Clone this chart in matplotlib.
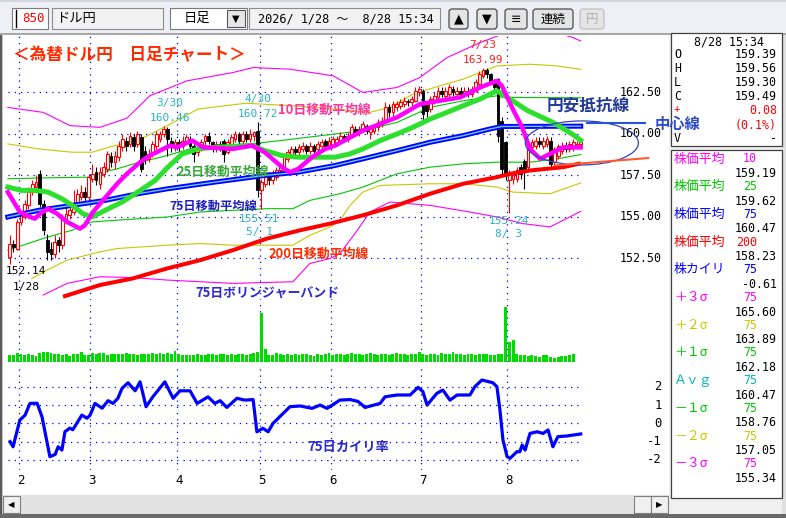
"""
Daily USD/JPY chart with moving averages, Bollinger bands, volume and deviation
"""

import matplotlib
matplotlib.use('Agg')
import matplotlib.pyplot as plt
from matplotlib.patches import Rectangle, Ellipse, FancyBboxPatch
import numpy as np

plt.rcParams['font.family'] = ['Noto Sans CJK JP', 'DejaVu Sans']
MONO = ['DejaVu Sans Mono', 'Noto Sans CJK JP']

# ---------------------------------------------------------------------------
# Data (trading day index 0 = 1/28, 152 = 8/28)
# ---------------------------------------------------------------------------
opens = [152.6, 153.4, 153.1, 154.7, 155.0, 155.7, 156.5, 156.8, 157.6, 155.8,
         153.6, 153.1, 152.8, 153.6, 153.3, 154.9, 155.1, 155.3, 155.7, 156.2,
         156.5, 156.2, 157.3, 157.7, 157.0, 157.6, 157.9, 158.7, 158.3, 158.6,
         159.2, 159.6, 159.4, 159.8, 159.4, 159.8, 159.0, 158.5, 158.8, 159.3,
         159.7, 160.0, 160.3, 159.6, 159.2, 159.5, 159.3, 159.5, 159.7, 159.3,
         158.9, 159.2, 159.6, 159.9, 159.5, 159.1, 159.4, 159.6, 158.9, 159.4,
         159.7, 160.0, 159.6, 160.0, 159.7, 159.9, 160.2, 156.6, 157.0, 157.5,
         157.2, 157.4, 157.8, 158.0, 158.5, 158.8, 159.1, 158.9, 159.1, 159.3,
         159.0, 159.3, 159.1, 159.3, 159.6, 159.3, 159.4, 159.4, 159.6, 159.9,
         159.7, 159.9, 160.3, 160.1, 160.3, 160.5, 160.1, 160.2, 160.4, 160.6,
         160.8, 161.6, 161.3, 161.6, 161.7, 161.8, 162.0, 161.9, 162.0, 162.5,
         162.6, 161.8, 161.5, 162.0, 162.2, 162.6, 162.3, 162.4, 162.7, 162.4,
         162.6, 162.4, 162.6, 162.4, 162.6, 163.0, 163.5, 163.85, 163.6, 163.2,
         163.3, 160.8, 159.5, 157.2, 157.3, 157.3, 158.0, 158.4, 158.0, 159.2,
         159.3, 159.6, 159.3, 159.4, 159.6, 158.3, 158.7, 159.0, 159.3, 159.1,
         159.2, 159.2, 159.39]
highs = [153.9, 153.6, 154.9, 155.3, 156.0, 156.8, 157.2, 157.5, 157.8, 156.0,
         154.0, 153.5, 153.9, 153.8, 155.2, 155.6, 155.9, 156.6, 156.7, 156.9,
         156.8, 157.6, 158.2, 158.0, 158.0, 158.3, 159.0, 158.9, 159.0, 159.6,
         160.0, 159.8, 160.1, 160.0, 160.2, 160.0, 159.3, 159.1, 159.6, 160.2,
         160.2, 160.46, 160.4, 159.8, 159.7, 159.7, 159.9, 160.0, 159.9, 159.4,
         159.4, 159.7, 160.0, 160.1, 159.6, 159.6, 159.6, 159.7, 159.7, 160.0,
         160.2, 160.1, 160.2, 160.2, 160.3, 160.2, 160.72, 157.3, 157.7, 157.7,
         157.8, 158.0, 158.2, 158.8, 159.1, 159.3, 159.3, 159.4, 159.5, 159.4,
         159.5, 159.4, 159.6, 159.7, 159.7, 159.8, 159.9, 159.9, 160.1, 160.0,
         160.1, 160.6, 160.5, 160.5, 160.8, 160.6, 160.5, 160.6, 160.9, 161.0,
         161.9, 161.8, 162.0, 162.0, 162.1, 162.2, 162.1, 162.3, 162.8, 162.9,
         162.7, 161.9, 162.3, 162.5, 162.8, 162.8, 162.8, 163.0, 162.9, 162.8,
         162.8, 162.8, 162.8, 162.9, 163.3, 163.8, 163.99, 163.95, 163.7, 163.3,
         163.4, 161.0, 159.6, 157.8, 157.7, 158.0, 158.2, 158.5, 159.3, 159.7,
         159.8, 159.8, 159.8, 159.9, 159.8, 159.2, 159.4, 159.5, 159.5, 159.6,
         159.7, 159.6, 159.56]
lows = [152.14, 152.9, 153.0, 154.5, 154.9, 155.5, 156.3, 156.5, 155.6, 153.9,
        152.4, 152.4, 152.5, 152.9, 153.1, 154.7, 154.9, 155.1, 155.5, 156.0,
        155.9, 156.0, 157.1, 156.9, 156.7, 157.4, 157.7, 158.0, 157.9, 158.4,
        159.0, 159.0, 159.2, 159.0, 159.2, 157.7, 158.2, 158.3, 158.6, 159.1,
        159.5, 159.8, 158.7, 158.9, 159.0, 159.0, 159.1, 159.4, 159.1, 158.3,
        158.7, 159.0, 159.3, 159.4, 158.9, 158.9, 159.0, 158.3, 158.8, 159.2,
        159.5, 159.4, 159.4, 159.5, 159.5, 159.6, 156.2, 155.51, 156.8, 156.9,
        157.0, 157.2, 157.6, 157.9, 158.3, 158.6, 158.7, 158.7, 158.9, 158.8,
        158.8, 158.8, 158.9, 159.1, 159.1, 159.1, 159.2, 159.3, 159.4, 159.5,
        159.5, 159.8, 159.9, 159.9, 160.1, 160.0, 159.7, 160.0, 160.2, 160.4,
        160.7, 161.0, 161.1, 161.4, 161.5, 161.6, 161.7, 161.7, 161.9, 162.3,
        160.6, 161.0, 161.3, 161.8, 162.0, 162.2, 162.1, 162.2, 162.3, 162.2,
        162.2, 162.2, 162.2, 162.2, 162.5, 162.9, 163.4, 163.4, 163.0, 162.6,
        159.5, 157.6, 157.2, 155.24, 157.0, 157.1, 157.3, 156.7, 157.8, 159.0,
        159.1, 159.2, 159.1, 159.2, 158.0, 158.1, 158.5, 158.8, 158.9, 158.9,
        159.0, 159.1, 159.30]
closes = [153.4, 153.2, 154.7, 155.1, 155.8, 156.5, 157.0, 157.1, 155.8, 154.2,
          152.9, 152.8, 153.5, 153.3, 155.0, 155.2, 155.4, 155.8, 156.4, 156.5,
          156.2, 157.4, 157.6, 157.2, 157.7, 158.0, 158.8, 158.3, 158.7, 159.3,
          159.7, 159.3, 159.9, 159.3, 160.0, 157.9, 158.5, 158.8, 159.4, 160.0,
          160.0, 160.3, 159.7, 159.2, 159.5, 159.3, 159.6, 159.8, 159.3, 158.8,
          159.2, 159.5, 159.9, 159.6, 159.1, 159.4, 159.2, 158.8, 159.5, 159.8,
          160.0, 159.6, 160.0, 159.7, 160.0, 160.1, 156.6, 157.1, 157.5, 157.2,
          157.5, 157.8, 158.0, 158.6, 158.9, 159.1, 158.9, 159.2, 159.3, 159.0,
          159.3, 159.0, 159.4, 159.5, 159.3, 159.6, 159.7, 159.7, 159.9, 159.7,
          159.9, 160.4, 160.1, 160.3, 160.6, 160.2, 160.3, 160.4, 160.7, 160.8,
          161.6, 161.3, 161.8, 161.8, 161.9, 162.0, 161.9, 162.1, 162.6, 162.7,
          161.2, 161.4, 162.1, 162.3, 162.6, 162.4, 162.6, 162.8, 162.5, 162.6,
          162.4, 162.6, 162.4, 162.7, 163.1, 163.6, 163.85, 163.6, 163.2, 162.8,
          159.9, 157.9, 157.5, 157.6, 157.5, 157.8, 157.6, 157.9, 159.1, 159.5,
          159.6, 159.4, 159.6, 159.7, 158.2, 159.1, 159.3, 159.3, 159.1, 159.4,
          159.5, 159.4, 159.49]
volumes = [7, 7, 9, 8, 7, 8, 7, 6, 9, 10,
           10, 9, 8, 8, 7, 8, 6, 8, 8, 10,
           7, 7, 9, 8, 9, 9, 7, 8, 8, 8,
           8, 9, 8, 8, 7, 8, 8, 8, 9, 8,
           9, 8, 9, 8, 11, 8, 7, 7, 7, 7,
           8, 7, 7, 8, 8, 7, 8, 8, 7, 8,
           7, 8, 8, 7, 8, 9, 10, 49, 13, 7,
           7, 9, 8, 7, 8, 7, 8, 7, 8, 8,
           7, 6, 8, 7, 8, 9, 7, 8, 8, 7,
           8, 9, 8, 8, 7, 8, 9, 8, 7, 8,
           8, 7, 8, 9, 8, 8, 7, 8, 8, 10,
           8, 7, 8, 8, 7, 9, 8, 8, 10, 8,
           8, 7, 8, 8, 7, 8, 8, 8, 7, 7,
           8, 8, 55, 20, 22, 8, 7, 7, 6, 7,
           6, 5, 7, 7, 5, 4, 5, 6, 6, 7,
           8]

# moving averages (day index, price)
ma10 = [(-0.5, 156.5), (2.7, 155.3), (5.4, 155.0), (6.7, 154.9), (8.1, 155.2), (10.2, 155.5),
        (12.6, 155.2), (15.3, 154.7), (18.7, 154.3), (20.0, 154.5), (22.2, 155.3), (24.8, 156.0),
        (26.7, 156.5), (28.6, 157.0), (31.2, 157.6), (34.7, 158.3), (37.3, 158.7), (40.0, 159.0),
        (42.7, 159.3), (44.5, 159.2), (48.6, 159.6), (51.4, 159.2), (59.4, 159.1), (64.5, 159.3),
        (67.9, 158.9), (72.5, 158.0), (74.6, 157.7), (76.8, 157.9), (80.5, 158.6), (84.0, 159.1),
        (86.6, 159.3), (94.0, 160.2), (103.1, 161.0), (109.2, 161.8), (114.5, 162.0), (119.9, 162.2),
        (125.2, 162.8), (129.7, 163.2), (131.0, 162.9), (133.7, 161.6), (136.4, 160.4), (138.5, 159.1),
        (141.2, 158.5), (143.8, 158.8), (147.3, 159.2), (152.0, 159.19)]
ma25 = [(-0.5, 156.8), (3.2, 156.6), (6.7, 156.6), (10.2, 156.5), (13.9, 156.1), (16.6, 155.7),
        (19.5, 155.2), (21.9, 155.0), (25.4, 155.4), (29.9, 155.9), (34.1, 156.5), (38.7, 157.2),
        (42.1, 158.0), (45.9, 158.8), (50.1, 159.1), (54.6, 159.2), (64.5, 159.3), (67.9, 159.0),
        (72.5, 158.7), (76.8, 158.6), (86.6, 158.6), (90.6, 158.8), (94.0, 159.1), (98.6, 159.6),
        (103.1, 160.0), (107.3, 160.4), (111.9, 160.9), (116.4, 161.3), (120.7, 161.7), (125.2, 162.1),
        (129.7, 162.6), (133.2, 162.1), (137.9, 161.4), (144.6, 160.7), (149.7, 160.0), (152.0, 159.62)]
ma75 = [(-0.5, 155.0), (7.7, 155.4), (16.6, 155.7), (25.4, 156.0), (34.1, 156.4), (42.1, 156.7),
        (54.6, 157.1), (67.9, 157.5), (76.8, 157.7), (86.6, 158.1), (94.0, 158.5), (103.1, 159.0),
        (111.9, 159.5), (120.7, 159.9), (127.8, 160.3), (131.0, 160.45), (152.0, 160.47)]
ma200 = [(14.2, 150.2), (24.0, 150.9), (32.8, 151.3), (41.9, 151.9), (50.7, 152.4), (59.4, 153.0),
         (68.5, 153.7), (77.3, 154.2), (85.3, 154.6), (94.0, 155.1), (103.1, 155.7), (111.9, 156.4),
         (120.7, 157.0), (129.7, 157.4), (133.2, 157.6), (138.5, 157.8), (147.3, 158.0), (152.0, 158.23)]

# 75-day Bollinger bands
bb_p1 = [(-0.5, 157.3), (8.1, 157.35), (21.4, 157.4), (24.8, 157.7), (28.6, 157.9), (33.0, 158.2),
         (41.9, 158.7), (48.0, 159.1), (59.4, 159.35), (66.0, 159.45), (72.0, 159.6), (86.6, 160.0),
         (94.0, 160.2), (103.1, 160.7), (111.9, 161.6), (120.7, 162.0), (129.7, 162.3), (131.3, 162.2),
         (152.0, 162.18)]
bb_m1 = [(-0.5, 153.0), (10.2, 153.8), (16.6, 154.2), (21.9, 154.7), (28.0, 154.8), (41.9, 155.0),
         (50.7, 155.3), (59.4, 155.4), (68.5, 155.5), (75.4, 155.5), (79.9, 156.0), (87.9, 156.4),
         (94.0, 156.8), (103.1, 157.6), (111.9, 158.0), (120.7, 158.2), (129.7, 158.3), (138.5, 158.3),
         (145.7, 158.5), (152.0, 158.76)]
bb_p2 = [(-0.5, 159.4), (7.7, 159.1), (16.6, 158.9), (21.9, 158.9), (28.0, 159.3), (34.1, 159.6),
         (41.9, 160.5), (50.1, 161.5), (62.8, 161.85), (75.2, 161.7), (86.6, 161.5), (95.9, 161.3),
         (101.2, 161.6), (107.3, 162.4), (114.5, 162.9), (120.7, 163.3), (125.2, 163.7), (129.7, 164.1),
         (138.5, 164.2), (145.7, 164.1), (152.0, 163.89)]
bb_m2 = [(5.9, 151.3), (9.9, 151.8), (15.3, 152.4), (24.0, 152.9), (28.6, 153.1), (41.9, 153.3),
         (50.7, 153.4), (59.4, 153.3), (75.4, 153.3), (79.9, 153.9), (85.3, 154.4), (87.9, 154.8),
         (90.6, 155.7), (94.0, 156.5), (98.6, 156.9), (111.9, 157.0), (120.7, 157.0), (129.7, 156.8),
         (133.9, 156.5), (143.8, 156.4), (152.0, 157.05)]
bb_p3 = [(-0.5, 161.6), (8.9, 161.3), (16.1, 160.5), (24.0, 160.4), (31.2, 160.95), (37.3, 162.3),
         (47.2, 163.2), (59.4, 163.7), (64.8, 164.0), (74.6, 163.9), (86.1, 163.5), (94.0, 162.5),
         (103.1, 162.8), (109.2, 163.4), (116.4, 164.6), (125.2, 165.5), (131.0, 166.0), (138.5, 166.3),
         (145.7, 166.1), (150.0, 165.8), (152.0, 165.6)]
bb_m3 = [(8.9, 150.3), (15.3, 151.0), (24.0, 151.4), (32.8, 151.35), (41.9, 151.2), (50.7, 151.1),
         (59.4, 151.0), (75.4, 151.1), (79.9, 152.2), (85.3, 152.5), (87.9, 152.8), (91.9, 154.0),
         (95.9, 155.3), (101.2, 155.9), (111.9, 155.7), (122.5, 155.3), (129.7, 155.0), (136.6, 154.6),
         (143.8, 154.4), (147.3, 154.8), (152.0, 155.34)]

# 75-day deviation rate (%)
deviation = [(0.1, -1.0), (0.9, -1.28), (2.7, 0.18), (4.1, 0.45), (5.4, 1.09), (7.3, 1.1), (8.6, 0.36),
             (10.7, -1.82), (12.1, -1.7), (12.9, -1.28), (13.9, -1.46), (14.7, -0.46), (16.0, -0.26),
             (16.8, -0.35), (19.2, 0.45), (20.6, 0.28), (21.4, 0.45), (22.7, 1.09), (24.6, 0.83),
             (26.2, 1.24), (27.5, 1.09), (28.8, 1.37), (29.9, 1.91), (31.5, 2.22), (33.4, 1.78),
             (34.7, 2.27), (36.3, 0.91), (38.1, 1.45), (41.3, 2.27), (43.5, 1.37), (45.3, 1.78),
             (48.0, 1.78), (49.9, 1.09), (52.8, 1.45), (54.6, 1.09), (56.0, 1.24), (57.8, 0.87),
             (60.5, 1.37), (62.6, 1.27), (64.8, 1.3), (65.8, -0.46), (67.4, -0.27), (68.8, -0.46),
             (70.1, 0.0), (74.6, 0.91), (77.3, 0.95), (80.5, 0.82), (82.6, 1.0), (84.5, 0.82),
             (87.9, 1.27), (90.6, 1.3), (92.7, 1.2), (94.6, 0.87), (98.6, 1.09), (99.9, 1.45),
             (103.1, 1.55), (106.6, 1.55), (108.7, 1.97), (110.0, 1.73), (111.1, 1.0), (113.7, 1.64),
             (115.3, 1.82), (117.2, 1.27), (119.1, 1.55), (122.5, 1.55), (123.8, 2.0), (125.7, 2.37),
             (128.6, 2.22), (129.7, 2.0), (130.5, 0.73), (131.3, -0.91), (132.4, -1.82), (133.2, -1.91),
             (135.0, -1.55), (135.8, -1.55), (136.4, -1.19), (137.2, -1.46), (138.5, -0.55),
             (140.4, -0.46), (142.0, -0.55), (143.3, -0.36), (144.6, -1.28), (145.9, -0.73),
             (148.3, -0.69), (152.0, -0.58)]

month_first_day = [3, 22, 45, 67, 86, 110, 133]
month_labels = ['2', '3', '4', '5', '6', '7', '8']
price_ticks = [162.5, 160.0, 157.5, 155.0, 152.5]
dev_ticks = [2, 1, 0, -1, -2]

# high / low markers: (x, y, text, colour)
marker_texts = [
    (42.7, 161.86, '3/30', '#2ab4c0'), (42.7, 160.95, '160.46', '#2ab4c0'),
    (66.0, 162.10, '4/30', '#2ab4c0'), (66.0, 161.22, '160.72', '#2ab4c0'),
    (66.4, 154.90, '155.51', '#2ab4c0'), (66.4, 154.10, '5/ 1', '#2ab4c0'),
    (126.0, 165.35, '7/23', '#ff2020'), (126.0, 164.45, '163.99', '#ff2020'),
    (132.9, 154.75, '155.24', '#2ab4c0'), (132.9, 153.96, '8/ 3', '#2ab4c0'),
    (4.3, 151.73, '152.14', 'black'), (4.3, 150.77, '1/28', 'black'),
]

# info panel
ohlc_labels = ['O', 'H', 'L', 'C']
ohlc_values = ['159.39', '159.56', '159.30', '159.49']
indicator_names = ['株価平均', '株価平均', '株価平均', '株価平均', '株カイリ',
                   '＋３σ', '＋２σ', '＋１σ', 'Ａｖｇ', '－１σ', '－２σ', '－３σ']
indicator_periods = ['10', '25', '75', '200', '75', '75', '75', '75', '75', '75', '75', '75']
indicator_values = ['159.19', '159.62', '160.47', '158.23', '-0.61', '165.60',
                    '163.89', '162.18', '160.47', '158.76', '157.05', '155.34']
indicator_colors = ['#ff00ff', '#00c800', '#0000ff', '#ff0000', '#0000ff', '#ff00ff',
                    '#c8c800', '#00c800', '#00b8b8', '#00c800', '#c8c800', '#ff00ff']

W, H = 786, 518


def px_rect(x0, y0, x1, y1):
    return [x0 / W, 1 - y1 / H, (x1 - x0) / W, (y1 - y0) / H]


def unzip(points):
    return [p[0] for p in points], [p[1] for p in points]


def create_chart():
    fig = plt.figure(figsize=(W / 100, H / 100), dpi=100, facecolor='#f0f0f0')

    # =========================================================================
    # Window chrome (pixel coordinates)
    # =========================================================================
    ui = fig.add_axes([0, 0, 1, 1], zorder=0)
    ui.set_xlim(0, W)
    ui.set_ylim(H, 0)
    ui.axis('off')

    def box(x0, y0, x1, y1, fc, ec='none', lw=0.0, z=1):
        ui.add_patch(Rectangle((x0, y0), x1 - x0, y1 - y0, facecolor=fc, edgecolor=ec, linewidth=lw, zorder=z))

    box(0, 0, W, 36, '#eef0f5')
    box(0, 0, W, 2, '#d2d6de')
    box(0, 33, W, 35, '#a8a8a8')

    # toolbar fields
    box(12, 8, 48, 29, 'white', '#7c7c7c', 0.8)
    ui.plot([16, 16], [10, 27], color='black', lw=1)
    ui.text(22, 18.5, '850', color='#ff0000', fontsize=9, family=MONO, va='center')
    box(52, 8, 163, 29, '#f2f2f2', '#8c8c8c', 0.8)
    ui.text(56, 18.5, 'ドル円', fontsize=9.5, va='center')
    box(170, 8, 247, 29, 'white', '#7c7c7c', 0.8)
    ui.text(197, 18.5, '日足', fontsize=9.5, va='center', ha='center')
    box(227, 10, 245, 27, '#e6e6e6', '#555555', 0.8, z=2)
    ui.text(236, 18.5, '▼', fontsize=7, va='center', ha='center', zorder=3, family=['DejaVu Sans'])
    box(249, 8, 440, 29, '#f2f2f2', '#8c8c8c', 0.8)
    ui.text(258, 18.5, '2026/ 1/28 ～  8/28 15:34', fontsize=8.6, family=MONO, va='center')

    buttons = [(449, 468, '▲', 'black'), (477, 497, '▼', 'black'), (505, 527, '≡', 'black'),
               (533, 573, '連続', 'black'), (580, 604, '円', '#b0b0b0')]
    for x0, x1, label, col in buttons:
        ec = '#4a4a4a' if col == 'black' else '#c0c0c0'
        ui.add_patch(FancyBboxPatch((x0, 9), x1 - x0, 20, boxstyle='round,pad=0,rounding_size=3',
                                    facecolor='#e4e4e4', edgecolor=ec, linewidth=0.9, zorder=2))
        fam = ['DejaVu Sans'] if label in '▲▼≡' else plt.rcParams['font.family']
        ui.text((x0 + x1) / 2, 19, label, color=col, fontsize=9, ha='center', va='center', zorder=3,
                family=fam)

    # chart area + frame
    box(3, 35, 669, 495, 'white')
    box(0, 35, 2, H, '#5a5a5a')
    box(2, 35, 3, H, '#c8c8c8')

    # scrollbar
    box(3, 495, 669, 514, '#e2e2e2')
    box(3, 496, 20, 513, '#f0f0f0', '#808080', 0.8, z=2)
    ui.text(11.5, 504.5, '◀', fontsize=6, ha='center', va='center', zorder=3, family=['DejaVu Sans'])
    box(634, 496, 651, 513, '#f0f0f0', '#808080', 0.8, z=2)
    box(651, 496, 668, 513, '#f0f0f0', '#808080', 0.8, z=2)
    ui.text(659.5, 504.5, '▶', fontsize=6, ha='center', va='center', zorder=3, family=['DejaVu Sans'])
    box(0, 514, W, H, '#6a6a6a')

    # right info panel
    box(669, 35, W, 514, '#f0f0f0')
    box(782, 35, W, 514, '#e0e0e0')
    box(671, 33, 782, 146, 'white', '#404040', 0.9, z=2)
    box(671, 150, 782, 498, 'white', '#404040', 0.9, z=2)

    num = dict(fontsize=8.4, family=MONO, va='center', zorder=3)
    ui.text(729, 42, '8/28 15:34', ha='center', **num)
    for k, (lab, val) in enumerate(zip(ohlc_labels, ohlc_values)):
        yy = 55 + k * 14
        ui.text(674, yy, lab, **num)
        ui.text(777, yy, val, ha='right', **num)
    ui.text(674, 109, '+', fontsize=7.5, family=MONO, va='center', color='#ff0000', zorder=3)
    ui.text(777, 111, '0.08', ha='right', color='#ff0000', **num)
    ui.text(777, 125, '(0.1%)', ha='right', color='#ff0000', **num)
    ui.text(674, 139, 'V', **num)
    ui.text(777, 139, '-', ha='right', **num)

    for k in range(len(indicator_names)):
        yy = 159 + k * 27.7
        col = indicator_colors[k]
        ui.text(674, yy, indicator_names[k], fontsize=9.3, color=col, va='center', zorder=3)
        ui.text(757, yy, indicator_periods[k], color=col, ha='right', **num)
        ui.text(777, yy + 14.5, indicator_values[k], ha='right', **num)

    ui.text(13, 55, '＜為替ドル円　日足チャート＞', color='#ff2a00', fontsize=12, fontweight='bold',
            va='center', zorder=3)

    # =========================================================================
    # Data panels
    # =========================================================================
    xlim = (-1.25, 174.7)
    ax = fig.add_axes(px_rect(5, 36, 666, 300), zorder=2)
    axv = fig.add_axes(px_rect(5, 302, 666, 362), zorder=2)
    axd = fig.add_axes(px_rect(5, 365, 666, 470), zorder=2)
    for a in (ax, axv, axd):
        a.set_xlim(*xlim)
        a.patch.set_visible(False)
        a.axis('off')
    ax.set_ylim(150.0, 165.9)
    axv.set_ylim(0, 60)
    axd.set_ylim(-2.55, 3.19)

    dots = dict(color='#0000ff', lw=0.9, ls=(0, (1, 4)), zorder=1)
    for k in month_first_day:
        for a in (ax, axv, axd):
            a.axvline(k - 0.5, **dots)
    for p in price_ticks:
        ax.plot([-0.5, 152.6], [p, p], **dots)
        ax.text(173.6, p, f'{p:.2f}', fontsize=8.4, family=MONO, ha='right', va='center')
    for d in dev_ticks:
        axd.plot([-0.5, 152.6], [d, d], **dots)
        axd.text(173.6, d, str(d), fontsize=8.8, family=MONO, ha='right', va='center')
    for k, lab in zip(month_first_day, month_labels):
        axd.text(k, -3.1, lab, fontsize=9, family=MONO, ha='center', va='center', clip_on=False)

    # Bollinger bands
    for pts, col in [(bb_p3, '#ff00ff'), (bb_m3, '#ff00ff'), (bb_p2, '#c8c800'), (bb_m2, '#c8c800'),
                     (bb_p1, '#00c800'), (bb_m1, '#00c800')]:
        xs, ys = unzip(pts)
        ax.plot(xs, ys, color=col, lw=0.8, zorder=2)

    # candles
    o, h, l, c = (np.array(v) for v in (opens, highs, lows, closes))
    idx = np.arange(len(c))
    up = c >= o
    ax.vlines(idx[up], l[up], h[up], color='#ff0000', lw=0.8, zorder=3)
    ax.vlines(idx[~up], l[~up], h[~up], color='black', lw=0.8, zorder=3)
    lo = np.minimum(o, c)
    ht = np.maximum(np.abs(c - o), 0.06)
    ax.bar(idx[up], ht[up], bottom=lo[up], width=0.72, color='white', edgecolor='#ff0000', linewidth=0.8, zorder=4)
    ax.bar(idx[~up], ht[~up], bottom=lo[~up], width=0.72, color='black', edgecolor='black', linewidth=0.6, zorder=4)

    # moving averages
    xs, ys = unzip(ma200)
    ax.plot(xs, ys, color='#ff0000', lw=2.9, zorder=5, solid_capstyle='butt')
    xs, ys = unzip(ma75)
    ax.plot(xs, ys, color='#0000ff', lw=3.6, zorder=5)
    ax.plot(xs, ys, color='#6cc8ff', lw=1.0, zorder=5)
    xs, ys = unzip(ma25)
    ax.plot(xs, ys, color='#2ee02e', lw=3.6, zorder=6)
    xs, ys = unzip(ma10)
    ax.plot(xs, ys, color='#ff00ff', lw=3.2, zorder=7)

    for x, y, t, col in marker_texts:
        ax.text(x, y, t, color=col, fontsize=8, family=MONO, ha='center', va='center', zorder=8)

    lab = dict(fontweight='bold', fontsize=9.3, va='center', ha='left', zorder=8)
    ax.text(71.5, 161.43, '10日移動平均線', color='#ff3399', **lab)
    ax.text(44.5, 157.7, '25日移動平均線', color='#3aa83a', **lab)
    ax.text(42.5, 155.62, '75日移動平均線', color='#2020c0', fontweight='bold', fontsize=8.8,
            va='center', ha='left', zorder=8)
    ax.text(68.8, 152.8, '200日移動平均線', color='#ff2a00', **lab)
    ax.text(49.3, 150.4, '75日ボリンジャーバンド', color='#2a2ad0', **lab)
    ax.text(142.8, 161.73, '円安抵抗線', color='#1f3a9a', fontsize=12, fontweight='bold',
            va='center', ha='left', zorder=8)
    ax.text(171.8, 160.62, '中心線', color='#2a4ad0', fontsize=11, fontweight='bold',
            va='center', ha='left', zorder=9, clip_on=False)

    # hand-drawn annotation
    ax.add_patch(Ellipse((152.3, 159.46), 30.1, 2.65, fill=False, edgecolor='#3344bb', lw=0.9, zorder=8))
    ax.plot([153.7, 169.1], [160.65, 160.65], color='#2255dd', lw=1.5, zorder=8)
    ax.plot([145.0, 170.0], [158.1, 158.55], color='#ff5a30', lw=1.5, zorder=8)

    # volume
    axv.bar(np.arange(len(volumes)), volumes, width=0.78, color='#00dc00', zorder=3)

    # deviation
    xs, ys = unzip(deviation)
    axd.plot(xs, ys, color='#0000ff', lw=2.3, zorder=3, solid_joinstyle='round')
    axd.text(79.2, -1.3, '75日カイリ率', color='#2a2ad0', fontweight='bold', fontsize=9.5,
             va='center', ha='left', zorder=8)

    fig.savefig('out.png', dpi=100, facecolor=fig.get_facecolor())
    return fig


if __name__ == "__main__":
    create_chart()
